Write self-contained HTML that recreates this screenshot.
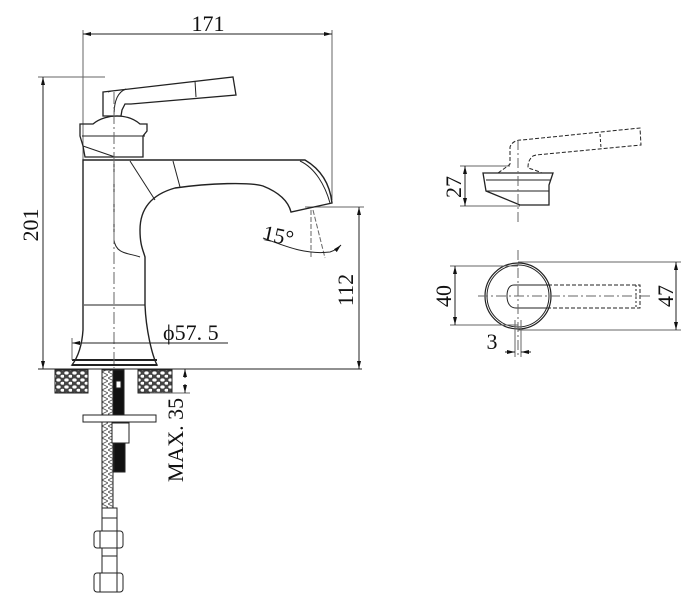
<!DOCTYPE html>
<html><head><style>
html,body{margin:0;padding:0;background:#fff}
svg{display:block}
text{font-family:"Liberation Serif",serif;fill:#111}
</style></head><body>
<svg width="700" height="614" viewBox="0 0 700 614" xmlns="http://www.w3.org/2000/svg">
<defs>
<marker id="a" markerWidth="8" markerHeight="6" refX="8" refY="3" orient="auto-start-reverse" markerUnits="userSpaceOnUse"><path d="M0,1 L8,3 L0,5z" fill="#111"/></marker>
<pattern id="st" width="8" height="7" patternUnits="userSpaceOnUse"><rect width="8" height="7" fill="#444"/><ellipse cx="2.5" cy="2" rx="2.2" ry="1.6" fill="#fff"/><ellipse cx="6.5" cy="5.2" rx="2" ry="1.5" fill="#fff"/></pattern>
<pattern id="hz" width="6" height="6" patternUnits="userSpaceOnUse"><rect width="6" height="6" fill="#fff"/><path d="M0,0 L6,3 M0,6 L6,3" stroke="#555" stroke-width="0.8"/></pattern>
</defs>
<g stroke="#222" stroke-width="1" fill="none">
<line x1="83" y1="30" x2="83" y2="160" stroke="#666"/>
<line x1="332" y1="30" x2="332" y2="200" stroke="#666"/>
<line x1="83" y1="34" x2="332" y2="34" marker-start="url(#a)" marker-end="url(#a)"/>
<line x1="38" y1="77" x2="105" y2="77" stroke="#666"/>
<line x1="43" y1="77" x2="43" y2="369" marker-start="url(#a)" marker-end="url(#a)"/>
<line x1="38" y1="369" x2="362" y2="369"/>
<line x1="305" y1="207" x2="364" y2="207" stroke="#666"/>
<line x1="359" y1="207" x2="359" y2="369" marker-start="url(#a)" marker-end="url(#a)"/>
<path d="M103,92 L233,77 L236,95 L131,104 L125,104 L122,110 L121,116 L103,116 Z" stroke-width="1.3"/>
<path d="M111,91 L108,92 M126,89 C118,92 114,100 114,116 M195,81 L196,97" stroke-width="1"/>
<path d="M93,124 C100,118 110,116 117,116 C125,116 133,118 140,124 L147,124 L147,131 L143,136 L143,157 L85,157 L83,146 L80,136 L80,124 Z" stroke-width="1.3"/>
<line x1="82" y1="136" x2="145" y2="136"/>
<line x1="83" y1="146" x2="115" y2="157"/>
<path d="M83,160 L83,330 C82,345 78,357 72,365 L157,365 C152,355 146,330 145,305 L145,257 C143,250 140,245 140,230 C140,210 150,195 175,188 C210,183 250,182 263,186 C278,192 288,200 291,212 L332,203 C330,185 322,170 305,160 Z" stroke-width="1.4"/>
<path d="M300,161 C315,168 325,185 330,203" stroke-width="1"/>
<path d="M114,160 L114,240 C116,255 130,253 140,257" stroke-width="1"/>
<line x1="130" y1="161" x2="155" y2="200"/>
<line x1="173" y1="161" x2="180" y2="187"/>
<line x1="84" y1="305" x2="145" y2="305"/>
<line x1="72" y1="360" x2="157" y2="360" stroke-width="2"/>
<line x1="72" y1="365" x2="157" y2="365" stroke-width="2"/>
<line x1="114" y1="92" x2="114" y2="368" stroke-dasharray="12,3,2,3" stroke="#666"/>
<line x1="72" y1="343" x2="228" y2="343" marker-start="url(#a)"/>
<line x1="72" y1="338" x2="72" y2="360" stroke="#666"/>
<line x1="311" y1="210" x2="311" y2="258" stroke-dasharray="5,2" stroke="#666"/>
<line x1="313" y1="210" x2="325" y2="258" stroke-dasharray="5,2" stroke="#666"/>
<path d="M263,238 C285,246 305,255 330,252 C336,250 338,248 341,245" marker-end="url(#a)"/>
<rect x="55" y="370" width="33" height="23" fill="url(#st)"/>
<rect x="138" y="370" width="34" height="23" fill="url(#st)"/>
<rect x="102" y="370" width="11" height="138" fill="url(#hz)"/>
<rect x="113" y="370" width="11" height="45" fill="#111"/>
<rect x="116" y="381" width="5" height="7" fill="#fff"/>
<rect x="114" y="423" width="11" height="49" fill="#111"/>
<rect x="83" y="415" width="73" height="7" fill="#fff"/>
<rect x="112" y="423" width="17" height="20" fill="#fff"/>
<line x1="150" y1="393" x2="190" y2="393" stroke="#666"/>
<line x1="185" y1="378" x2="185" y2="369" marker-end="url(#a)"/>
<line x1="185" y1="384" x2="185" y2="393" marker-end="url(#a)"/>
<rect x="102" y="508" width="15" height="10"/>
<rect x="102" y="518" width="15" height="13"/>
<rect x="94" y="531" width="29" height="17" rx="3"/>
<line x1="100" y1="531" x2="100" y2="548"/><line x1="117" y1="531" x2="117" y2="548"/>
<rect x="102" y="548" width="15" height="25"/>
<line x1="102" y1="556" x2="117" y2="556"/>
<rect x="94" y="573" width="29" height="19" rx="3"/>
<line x1="100" y1="573" x2="100" y2="592"/><line x1="117" y1="573" x2="117" y2="592"/>
<path d="M483,173 L553,173 L549,185 L549,205 L520,205 L486,191 Z" stroke-width="1.3"/>
<line x1="486" y1="180" x2="551" y2="180"/>
<line x1="486" y1="191" x2="549" y2="191"/>
<path d="M498,173 C505,168 508,166 510,164 L510,147 C512,142 516,140 522,140 L640,128 L641,145 L536,155 L533,156 C528,160 528,165 528,168 C535,170 540,172 542,173" stroke-dasharray="4,2"/>
<line x1="600" y1="134" x2="601" y2="148" stroke-dasharray="3,2"/>
<line x1="518" y1="140" x2="518" y2="225" stroke-dasharray="10,3,2,3" stroke="#666"/>
<line x1="460" y1="166" x2="510" y2="166" stroke="#666"/>
<line x1="460" y1="206" x2="520" y2="206" stroke="#666"/>
<line x1="465" y1="166" x2="465" y2="206" marker-start="url(#a)" marker-end="url(#a)"/>
<circle cx="518" cy="296" r="33" stroke-width="1.2"/>
<circle cx="518" cy="296" r="31" stroke-width="1"/>
<path d="M548,285 L514,285 C509,285 507,290 507,296 C507,303 510,308 516,308 L548,308" />
<path d="M548,285 L640,285 L640,308 L548,308" stroke-dasharray="4,2"/>
<line x1="636" y1="285" x2="636" y2="308" stroke-dasharray="2,2"/>
<line x1="478" y1="296" x2="650" y2="296" stroke-dasharray="10,3,2,3" stroke="#666"/>
<line x1="518" y1="250" x2="518" y2="355" stroke-dasharray="10,3,2,3" stroke="#666"/>
<line x1="450" y1="266" x2="518" y2="266" stroke="#666"/>
<line x1="450" y1="325" x2="518" y2="325" stroke="#666"/>
<line x1="455" y1="266" x2="455" y2="325" marker-start="url(#a)" marker-end="url(#a)"/>
<line x1="518" y1="262" x2="681" y2="262" stroke="#666"/>
<line x1="518" y1="330" x2="681" y2="330" stroke="#666"/>
<line x1="676" y1="262" x2="676" y2="330" marker-start="url(#a)" marker-end="url(#a)"/>
<line x1="515" y1="320" x2="515" y2="357" stroke="#666"/>
<line x1="521" y1="320" x2="521" y2="357" stroke="#666"/>
<line x1="505" y1="352" x2="515" y2="352" marker-end="url(#a)"/>
<line x1="531" y1="352" x2="521" y2="352" marker-end="url(#a)"/>
</g>
<text x="208" y="31" font-size="22" text-anchor="middle">171</text>
<text transform="translate(38,225) rotate(-90)" font-size="22" text-anchor="middle">201</text>
<text transform="translate(353,290) rotate(-90)" font-size="22" text-anchor="middle">112</text>
<text x="263" y="244" font-size="22" transform="rotate(12 283 236)">15°</text>
<text x="163" y="340" font-size="22">ϕ57. 5</text>
<text transform="translate(183,440) rotate(-90)" font-size="22" text-anchor="middle">MAX. 35</text>
<text transform="translate(461,187) rotate(-90)" font-size="22" text-anchor="middle">27</text>
<text transform="translate(451,296) rotate(-90)" font-size="22" text-anchor="middle">40</text>
<text transform="translate(673,296) rotate(-90)" font-size="22" text-anchor="middle">47</text>
<text x="492" y="349" font-size="22" text-anchor="middle">3</text>
</svg>
</body></html>
